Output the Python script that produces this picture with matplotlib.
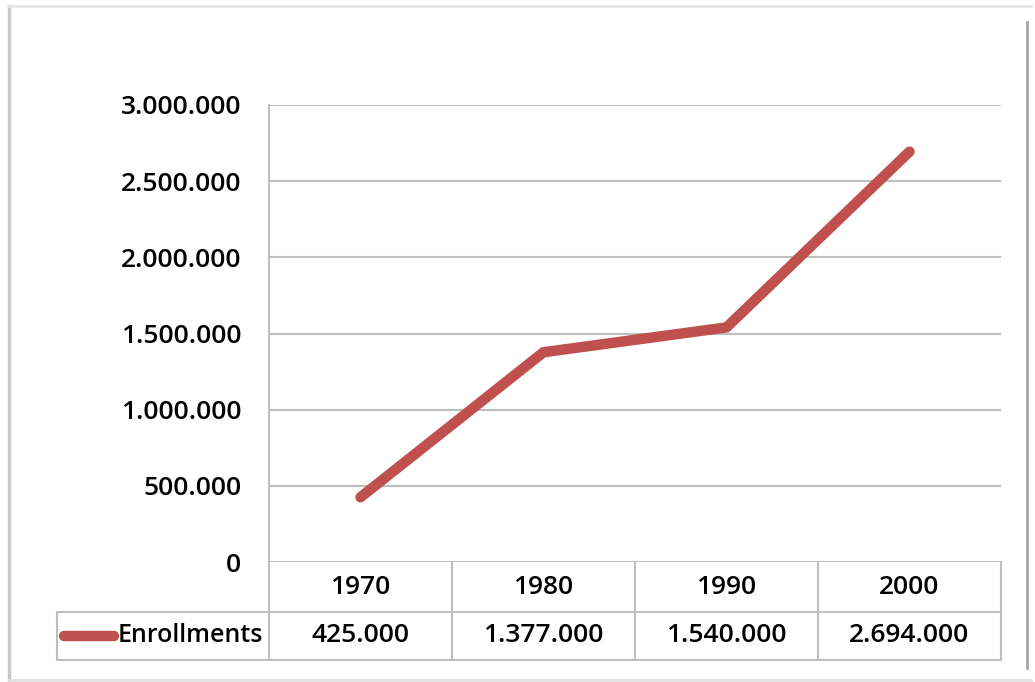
import numpy as np
import matplotlib.pyplot as plt
from matplotlib.lines import Line2D
from matplotlib.ticker import FuncFormatter

years = ["1970", "1980", "1990", "2000"]
enrollments = [425000, 1377000, 1540000, 2694000]
series_name = "Enrollments"
y_ticks = [0, 500000, 1000000, 1500000, 2000000, 2500000, 3000000]

LINE_COLOR = "#C0504D"
GRID_COLOR = "#BFBFBF"
FS = 19
plt.rcParams["font.family"] = ["Open Sans", "DejaVu Sans"]


def dotted(v, pos=None):
    return f"{int(v):,}".replace(",", ".")


W, H = 1035, 682
fig = plt.figure(figsize=(W / 100, H / 100), dpi=100)
fig.patch.set_facecolor("white")

# plot area in pixels: x 269..1001, y 105..562
ax = fig.add_axes([269 / W, (H - 562) / H, 732 / W, 457 / H])
x = np.arange(len(years))
ax.set_xlim(-0.5, len(years) - 0.5)
ax.set_ylim(0, 3000000)

ax.plot(x, enrollments, color=LINE_COLOR, lw=7.5,
        solid_capstyle="round", solid_joinstyle="miter", zorder=3)

ax.set_yticks(y_ticks)
ax.yaxis.set_major_formatter(FuncFormatter(dotted))
ax.tick_params(axis="y", length=0, pad=20, labelsize=FS)
for lab in ax.get_yticklabels():
    lab.set_fontweight("semibold")
ax.set_xticks([])
ax.grid(axis="y", color=GRID_COLOR, lw=1.5)
ax.set_axisbelow(True)
for side in ["top", "right", "bottom"]:
    ax.spines[side].set_visible(False)
ax.spines["left"].set_color(GRID_COLOR)
ax.spines["left"].set_linewidth(1.5)

# data table below the plot (x in data units, y in axes fraction)
trans = ax.get_xaxis_transform()
row_h = 50 / 457
row2_h = 98 / 457
left_edge = -0.5 - (269 - 57) / 183
tbl = dict(color=GRID_COLOR, lw=1.5, transform=trans, clip_on=False)
ax.plot([left_edge, 3.5], [-row_h, -row_h], **tbl)
ax.plot([left_edge, 3.5], [-row2_h, -row2_h], **tbl)
ax.plot([left_edge, left_edge], [-row_h, -row2_h], **tbl)
for xb in np.arange(len(years) + 1) - 0.5:
    ax.plot([xb, xb], [0, -row2_h], **tbl)

for xi, yr, val in zip(x, years, enrollments):
    ax.text(xi, -row_h / 2, yr, transform=trans, ha="center", va="center",
            fontsize=FS, fontweight="semibold")
    ax.text(xi, -(row_h + row2_h) / 2, dotted(val), transform=trans,
            ha="center", va="center", fontsize=FS, fontweight="semibold")

# legend key inside the table
key_y = -(row_h + row2_h) / 2
ax.plot([left_edge + 0.04, left_edge + 0.31], [key_y, key_y], color=LINE_COLOR,
        lw=7.5, solid_capstyle="round", transform=trans, clip_on=False)
ax.text(left_edge + 0.33, key_y, series_name, transform=trans, ha="left",
        va="center", fontsize=18, fontweight="semibold")

# outer frame
fig.add_artist(Line2D([9 / W, 9 / W], [1 - 6 / H, 1 - 680 / H], color="#C8C8C8", lw=2.5))
fig.add_artist(Line2D([9 / W, 1 - 4 / W], [1 - 6 / H, 1 - 6 / H], color="#E6E6E6", lw=2))
fig.add_artist(Line2D([9 / W, 1 - 4 / W], [1 - 680 / H, 1 - 680 / H], color="#E0E0E0", lw=2))
fig.add_artist(Line2D([1027 / W, 1027 / W], [1 - 22 / H, 1 - 668 / H], color="#A6A6A6", lw=2))

fig.savefig("out.png", dpi=100)
